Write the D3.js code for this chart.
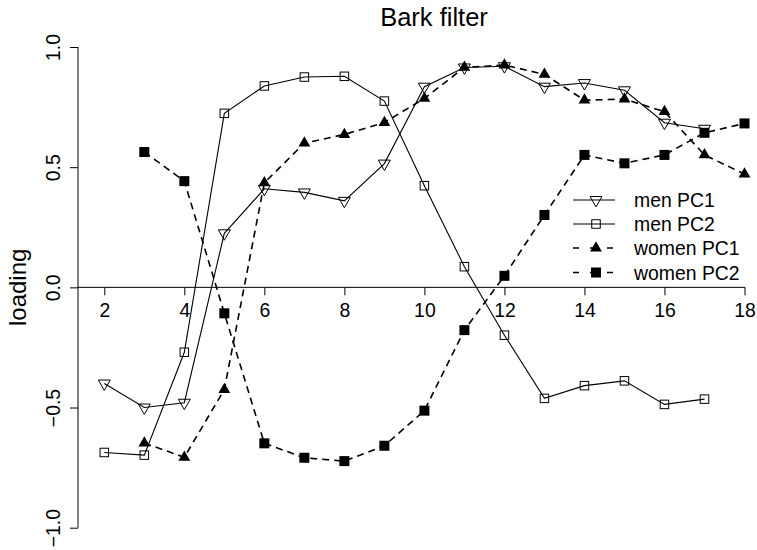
<!DOCTYPE html>
<html>
<head>
<meta charset="utf-8">
<script src="https://cdn.jsdelivr.net/npm/d3@7"></script>
<style>
  html, body { margin: 0; padding: 0; background: #fff; }
  svg { display: block; font-family: "Liberation Sans", Arial, Helvetica, sans-serif; }
</style>
</head>
<body>
<svg id="chart" width="757" height="550"></svg>
<script>
// ---- data ----
const xMen = [2,3,4,5,6,7,8,9,10,11,12,13,14,15,16,17];
const xWomen = [3,4,5,6,7,8,9,10,11,12,13,14,15,16,17,18];
const menPC1 = [-0.40, -0.50, -0.48, 0.225, 0.41, 0.395, 0.36, 0.515, 0.835, 0.915, 0.92, 0.835, 0.85, 0.82, 0.685, 0.66];
const menPC2 = [-0.687, -0.698, -0.27, 0.724, 0.838, 0.875, 0.878, 0.775, 0.423, 0.086, -0.199, -0.462, -0.409, -0.389, -0.487, -0.465];
const womenPC1 = [-0.648, -0.707, -0.425, 0.435, 0.60, 0.636, 0.686, 0.786, 0.915, 0.925, 0.886, 0.779, 0.783, 0.731, 0.551, 0.471];
const womenPC2 = [0.563, 0.442, -0.108, -0.649, -0.709, -0.723, -0.659, -0.513, -0.178, 0.048, 0.301, 0.551, 0.516, 0.551, 0.643, 0.682];
const xTicks = [2,4,6,8,10,12,14,16,18];
const yTicks = [-1, -0.5, 0, 0.5, 1];
const yTickLabels = ["\u22121.0", "\u22120.5", "0.0", "0.5", "1.0"];
const seriesNames = ["men PC1", "men PC2", "women PC1", "women PC2"];
const title = "Bark filter";
const yLabel = "loading";

const series = [
  {name: seriesNames[0], xs: xMen, ys: menPC1, dashed: false, shape: "triDownOpen"},
  {name: seriesNames[1], xs: xMen, ys: menPC2, dashed: false, shape: "squareOpen"},
  {name: seriesNames[2], xs: xWomen, ys: womenPC1, dashed: true, shape: "triUpFilled"},
  {name: seriesNames[3], xs: xWomen, ys: womenPC2, dashed: true, shape: "squareFilled"}
];

// ---- scales ----
const x = d3.scaleLinear().domain([2, 18]).range([104.3, 744.5]);
const y = d3.scaleLinear().domain([-1, 1]).range([527.7, 47]);
const plotLeft = 78, plotRight = 745;

const svg = d3.select("#chart");

// ---- marker shapes (R-like) ----
function triPath(cx, cy, w, up) {
  const r0 = w / (2 * 1.347);
  const r = 1.555 * r0, xc = 1.347 * r0, yc = 0.778 * r0;
  if (up) return `M${cx},${cy - r}L${cx + xc},${cy + yc}L${cx - xc},${cy + yc}Z`;
  return `M${cx},${cy + r}L${cx + xc},${cy - yc}L${cx - xc},${cy - yc}Z`;
}
function drawMarker(g, shape, cx, cy) {
  if (shape === "triDownOpen") {
    g.append("path").attr("d", triPath(cx, cy, 12, false))
      .attr("fill", "none").attr("stroke", "#000").attr("stroke-width", 1);
  } else if (shape === "squareOpen") {
    const s = 8.5;
    g.append("rect").attr("x", cx - s/2).attr("y", cy - s/2).attr("width", s).attr("height", s)
      .attr("fill", "none").attr("stroke", "#000").attr("stroke-width", 1);
  } else if (shape === "triUpFilled") {
    g.append("path").attr("d", triPath(cx, cy, 11.8, true)).attr("fill", "#000");
  } else if (shape === "squareFilled") {
    const s = 10;
    g.append("rect").attr("x", cx - s/2).attr("y", cy - s/2).attr("width", s).attr("height", s)
      .attr("fill", "#000");
  }
}

// ---- axes ----
const yAxis = d3.axisLeft(y).tickValues(yTicks).tickSize(8).tickPadding(0)
  .tickFormat((d, i) => yTickLabels[i]);
const gy = svg.append("g").attr("transform", `translate(${plotLeft},0)`).call(yAxis);
gy.select(".domain").attr("stroke", "#000").attr("stroke-width", 1)
  .attr("d", `M0,${y(-1)}V${y(1)}`);
gy.selectAll(".tick line").attr("stroke", "#000");
gy.selectAll(".tick text")
  .attr("x", null).attr("dy", null)
  .attr("transform", "translate(-18,0) rotate(-90)")
  .attr("text-anchor", "middle")
  .attr("font-size", 19.4).attr("fill", "#000")
  .attr("font-family", "Liberation Sans, Arial, sans-serif");

svg.append("line").attr("x1", plotLeft).attr("x2", plotRight)
  .attr("y1", y(0)).attr("y2", y(0)).attr("stroke", "#000").attr("stroke-width", 1);

const xAxis = d3.axisBottom(x).tickValues(xTicks).tickSize(8).tickPadding(0)
  .tickFormat(d3.format("d"));
const gx = svg.append("g").attr("transform", `translate(0,${y(0)})`).call(xAxis);
gx.select(".domain").remove();
gx.selectAll(".tick line").attr("stroke", "#000");
gx.selectAll(".tick text")
  .attr("y", 30).attr("dy", null)
  .attr("font-size", 19.4).attr("fill", "#000")
  .attr("font-family", "Liberation Sans, Arial, sans-serif");

// ---- series ----
const line = d3.line().x(d => x(d[0])).y(d => y(d[1]));
series.forEach(s => {
  const pts = s.xs.map((v, i) => [v, s.ys[i]]);
  const g = svg.append("g");
  g.append("path").attr("d", line(pts)).attr("fill", "none")
    .attr("stroke", "#000").attr("stroke-width", s.dashed ? 1.6 : 1.1)
    .attr("stroke-dasharray", s.dashed ? "7,5" : null);
  pts.forEach(p => drawMarker(g, s.shape, x(p[0]), y(p[1])));
});

// ---- title & y label ----
svg.append("text").attr("x", 434).attr("y", 26).attr("text-anchor", "middle")
  .attr("font-size", 25.5).attr("fill", "#000").text(title);
svg.append("text").attr("transform", `translate(26,${y(0)}) rotate(-90)`)
  .attr("text-anchor", "middle").attr("font-size", 24).attr("fill", "#000").text(yLabel);

// ---- legend ----
const legRows = [200, 224, 248, 272.5];
const leg = svg.append("g");
series.forEach((s, i) => {
  const cy = legRows[i];
  leg.append("line").attr("x1", 573).attr("x2", 615).attr("y1", cy).attr("y2", cy)
    .attr("stroke", "#000").attr("stroke-width", s.dashed ? 1.6 : 1.1)
    .attr("stroke-dasharray", s.dashed ? "6,11" : null);
  drawMarker(leg, s.shape, 596, cy);
  leg.append("text").attr("x", 634).attr("y", cy + 7).attr("font-size", 19.4)
    .attr("fill", "#000").text(s.name);
});
</script>
</body>
</html>
